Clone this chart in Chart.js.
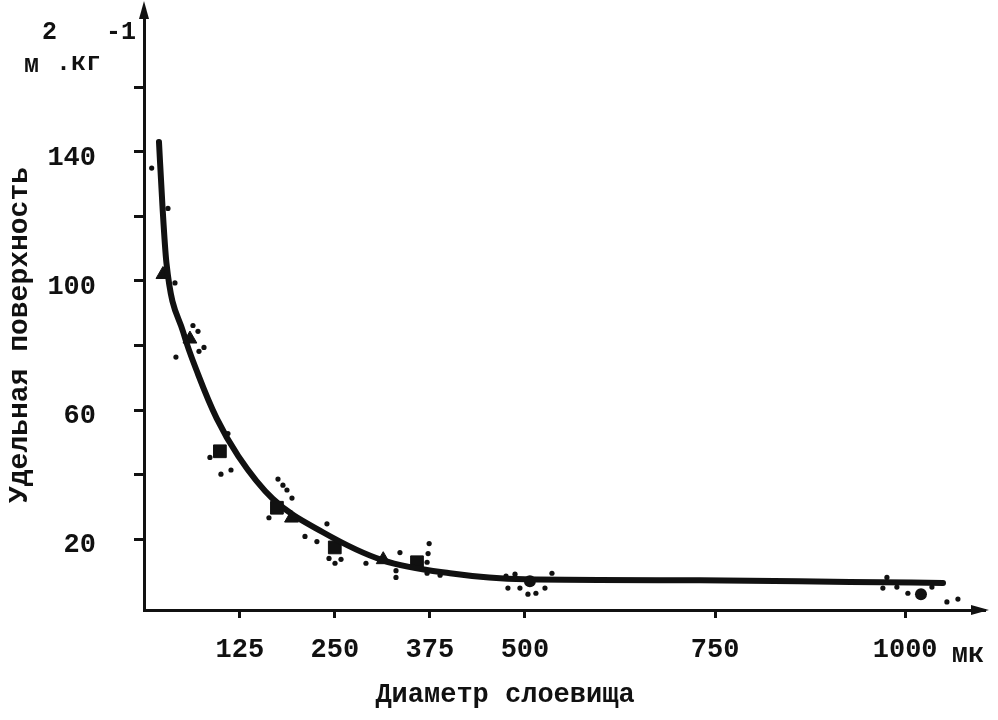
<!DOCTYPE html>
<html>
<head>
<meta charset="utf-8">
<script src="https://cdn.jsdelivr.net/npm/chart.js@4.4.1/dist/chart.umd.min.js"></script>
<style>
  html, body { margin: 0; padding: 0; background: #fff; }
  #wrap { width: 998px; height: 720px; }
</style>
</head>
<body>
<div id="wrap"><canvas id="chart" width="998" height="720"></canvas></div>
<script>
// fitted curve
const curveX = [18.7, 23.3, 28.5, 50.6, 70.4, 94.6, 123, 168.6, 234.3, 313.2, 401.4, 500, 730, 927.4, 1049.8];
const curveY = [143.1, 123.1, 105.6, 84.1, 70.9, 57.4, 45.7, 32.4, 22.1, 13.4, 9.4, 7.5, 7.2, 6.7, 6.4];

// individual measurements (small dots)
const dotX = [9.1, 30.5, 39.7, 63.4, 70, 77.9, 41, 71.3, 109.4, 85.7, 100.2, 113.4, 175.2, 181.7, 187, 193.6, 163.3, 210.7, 226.4, 239.6, 242.3, 250.2, 258.1, 290.9, 335.6, 330.4, 330.4, 374, 372.6, 371.3, 371.3, 388.4, 475.1, 486.9, 477.6, 493.4, 503.9, 514.4, 526.3, 535.5, 976, 970.7, 989.1, 1003.6, 1035.2, 1054.9, 1069.4];
const dotY = [135, 122.5, 99.4, 86.2, 84.4, 79.4, 76.4, 78.2, 52.7, 45.3, 40.1, 41.4, 38.6, 36.7, 35.2, 32.7, 26.6, 20.8, 19.2, 24.7, 14, 12.5, 13.7, 12.5, 15.8, 10.2, 8.1, 18.6, 15.5, 12.8, 9.4, 8.8, 8.5, 9.1, 4.8, 4.8, 2.9, 3.2, 4.8, 9.4, 8.1, 4.8, 5.1, 3.2, 5.1, 0.5, 1.4];

// group means
const triangleX = [23.9, 59.4, 193, 313.6];
const triangleY = [102, 82, 26.5, 13.6];
const squareX = [98.8, 173.8, 249.9, 358];
const squareY = [47.2, 29.7, 17.4, 12.8];
const bigDotX = [506.5, 1020.8];
const bigDotY = [6.9, 2.9];

const xTickValues = [125, 250, 375, 500, 750, 1000];
const yTickValues = [20, 40, 60, 80, 100, 120, 140, 160];
const yTickLabels = [20, 60, 100, 140];

const FONT = '"Liberation Mono", "DejaVu Sans Mono", monospace';
const INK = '#111';

const pts = (xs, ys) => xs.map((x, i) => ({ x, y: ys[i] }));

const decorations = {
  id: 'decorations',
  afterDraw(chart) {
    const { ctx, chartArea } = chart;
    const left = chartArea.left;
    const bottom = chartArea.bottom;
    ctx.save();
    ctx.fillStyle = INK;

    // arrow heads
    ctx.beginPath();
    ctx.moveTo(left, 1);
    ctx.lineTo(left - 5, 19);
    ctx.lineTo(left + 5, 19);
    ctx.closePath();
    ctx.fill();
    ctx.beginPath();
    ctx.moveTo(chartArea.right + 4, bottom);
    ctx.lineTo(chartArea.right - 14, bottom - 5);
    ctx.lineTo(chartArea.right - 14, bottom + 5);
    ctx.closePath();
    ctx.fill();

    // unit label
    ctx.textBaseline = 'middle';
    ctx.textAlign = 'left';
    ctx.font = `bold 25px ${FONT}`;
    ctx.fillText('м', 24, 66);
    ctx.fillText('.кг', 56, 64);
    ctx.fillText('2', 42, 33);
    ctx.fillText('-1', 106, 33);

    // axis titles
    ctx.font = `bold 27px ${FONT}`;
    ctx.textAlign = 'center';
    ctx.fillText('Диаметр слоевища', 505, 695);
    ctx.fillText('мк', 968, 655);

    ctx.translate(20, 335);
    ctx.rotate(-Math.PI / 2);
    ctx.font = `bold 28px ${FONT}`;
    ctx.fillText('Удельная поверхность', 0, 0);
    ctx.restore();
  }
};

new Chart(document.getElementById('chart').getContext('2d'), {
  type: 'scatter',
  data: {
    datasets: [
      {
        data: pts(curveX, curveY),
        showLine: true,
        borderColor: INK,
        borderWidth: 6,
        pointRadius: 0,
        cubicInterpolationMode: 'monotone',
        borderCapStyle: 'round'
      },
      {
        data: pts(dotX, dotY),
        pointStyle: 'circle',
        pointRadius: 2.6,
        backgroundColor: INK,
        borderWidth: 0
      },
      {
        data: pts(triangleX, triangleY),
        pointStyle: 'triangle',
        pointRadius: 8,
        backgroundColor: INK,
        borderColor: INK,
        borderWidth: 1
      },
      {
        data: pts(squareX, squareY),
        pointStyle: 'rect',
        pointRadius: 9,
        backgroundColor: INK,
        borderColor: INK,
        borderWidth: 1
      },
      {
        data: pts(bigDotX, bigDotY),
        pointStyle: 'circle',
        pointRadius: 6,
        backgroundColor: INK,
        borderWidth: 0
      }
    ]
  },
  options: {
    responsive: false,
    animation: false,
    layout: { padding: { top: 5, right: 13, left: 0, bottom: 0 } },
    plugins: { legend: { display: false }, tooltip: { enabled: false } },
    scales: {
      x: {
        type: 'linear',
        min: -1,
        max: 1105,
        afterFit: (scale) => {
          scale.height = 110;
          scale.paddingLeft = 0;
          scale.paddingRight = 0;
        },
        afterBuildTicks: (scale) => { scale.ticks = xTickValues.map((v) => ({ value: v })); },
        border: { display: true, color: INK, width: 3 },
        grid: { drawOnChartArea: false, drawTicks: true, tickLength: 8, tickWidth: 3, tickColor: INK },
        ticks: {
          color: INK,
          padding: 16,
          maxRotation: 0,
          font: { family: FONT, size: 27, weight: 'bold' },
          callback: (v) => String(v)
        }
      },
      y: {
        type: 'linear',
        min: -2,
        max: 184,
        afterFit: (scale) => {
          scale.width = 144;
          scale.paddingTop = 0;
          scale.paddingBottom = 0;
        },
        afterBuildTicks: (scale) => { scale.ticks = yTickValues.map((v) => ({ value: v })); },
        border: { display: true, color: INK, width: 3 },
        grid: { drawOnChartArea: false, drawTicks: true, tickLength: 10, tickWidth: 3, tickColor: INK },
        ticks: {
          color: INK,
          padding: 38,
          labelOffset: 6,
          font: { family: FONT, size: 27, weight: 'bold' },
          callback: (v) => (yTickLabels.includes(v) ? String(v) : '')
        }
      }
    }
  },
  plugins: [decorations]
});
</script>
</body>
</html>
